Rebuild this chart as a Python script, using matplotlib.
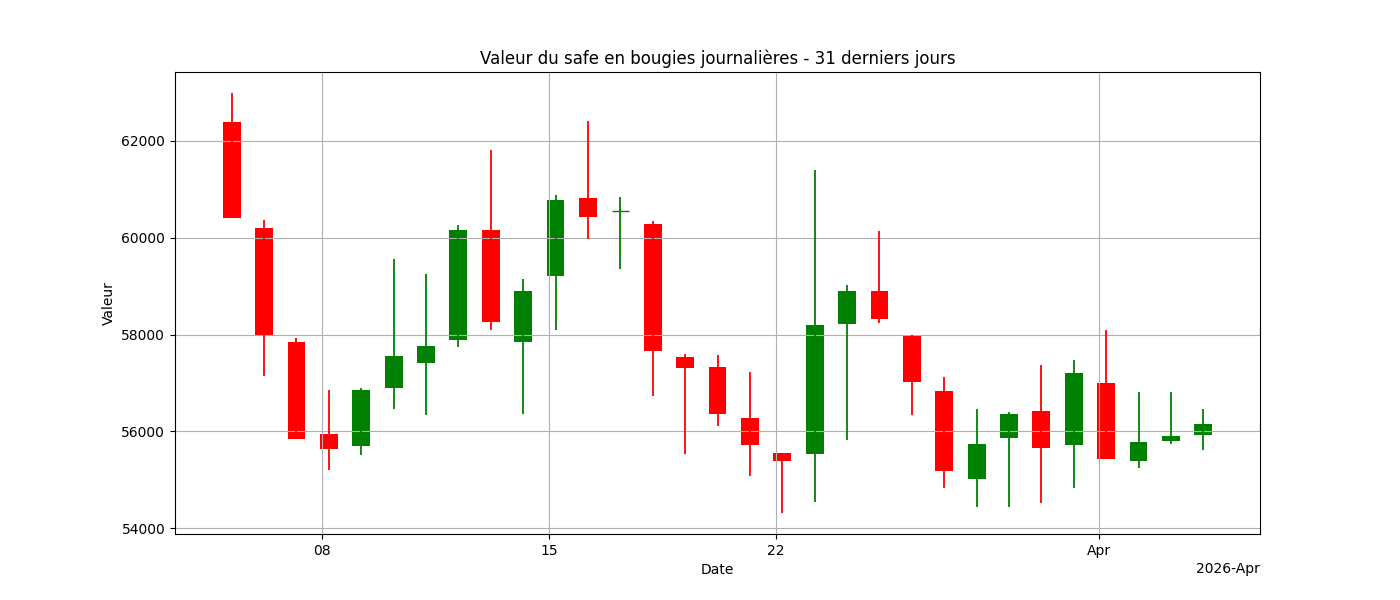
import matplotlib
matplotlib.use("Agg")
import matplotlib.pyplot as plt
import matplotlib.dates as mdates
import pandas as pd

dates = pd.date_range("2026-03-05 05:00", periods=31, freq="D")
opens = [62390, 60200, 57845, 55944, 55700, 56895, 57411, 57886, 60160, 57845,
         59210, 60822, 60553, 60284, 57535, 57329, 56274, 55550, 55530, 58218,
         58900, 57990, 56833, 55014, 55860, 56419, 55716, 56998, 55385, 55798, 55923]
closes = [60400, 57970, 55840, 55634, 56850, 57556, 57762, 60160, 58259, 58900,
          60780, 60429, 60553, 57659, 57308, 56357, 55716, 55385, 58197, 58900,
          58321, 57018, 55179, 55737, 56357, 55654, 57204, 55427, 55778, 55902, 56150]
highs = [63000, 60370, 57930, 56853, 56900, 59561, 59250, 60264, 61814, 59150,
         60884, 62413, 60843, 60346, 57597, 57576, 57225, 55550, 61400, 59024,
         60140, 57990, 57122, 56460, 56398, 57370, 57473, 58094, 56812, 56812, 56460]
lows = [60400, 57140, 55840, 55200, 55520, 56460, 56336, 57742, 58094, 56357,
        58094, 59974, 59354, 56729, 55530, 56109, 55075, 54311, 54540, 55819,
        58238, 56336, 54828, 54435, 54435, 54518, 54828, 55427, 55240, 55737, 55612]

fig, ax = plt.subplots(figsize=(14, 6), dpi=100)
fig.subplots_adjust(left=0.125, right=0.9, top=0.88, bottom=0.11)

x = mdates.date2num(dates)
for xi, o, c, h, l in zip(x, opens, closes, highs, lows):
    color = "green" if c >= o else "red"
    ax.vlines(xi, l, h, color=color, linewidth=1.3)
    body = abs(c - o)
    if body == 0:
        ax.hlines(o, xi - 0.27, xi + 0.27, color=color, linewidth=1)
    else:
        ax.bar(xi, body, bottom=min(o, c), width=0.55, color=color)

ax.xaxis_date()
locator = mdates.DayLocator(bymonthday=[1, 8, 15, 22])
ax.xaxis.set_major_locator(locator)
ax.xaxis.set_major_formatter(mdates.ConciseDateFormatter(locator))
ax.set_xlim(mdates.date2num(pd.Timestamp("2026-03-03 11:00")),
            mdates.date2num(pd.Timestamp("2026-04-05 23:00")))
ax.set_ylim(53877, 63426)
ax.grid(True)
ax.set_title("Valeur du safe en bougies journalières - 31 derniers jours")
ax.set_xlabel("Date")
ax.set_ylabel("Valeur")

fig.savefig("out.png")
